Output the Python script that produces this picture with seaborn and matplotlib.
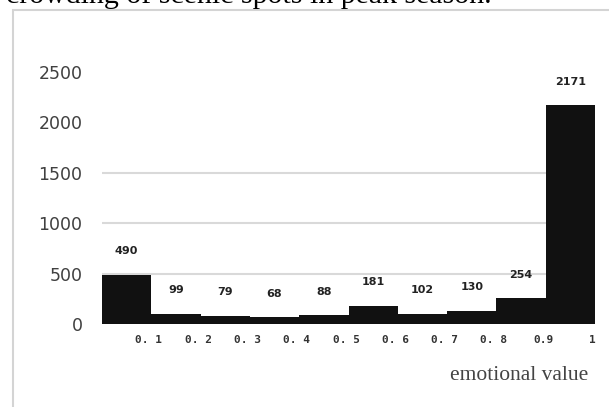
import matplotlib
matplotlib.use("Agg")
import matplotlib.pyplot as plt
import seaborn as sns
import pandas as pd
from matplotlib.patches import Rectangle

bins = ["0-0.1", "0.1-0.2", "0.2-0.3", "0.3-0.4", "0.4-0.5",
        "0.5-0.6", "0.6-0.7", "0.7-0.8", "0.8-0.9", "0.9-1"]
counts = [490, 99, 79, 68, 88, 181, 102, 130, 254, 2171]
tick_labels = ["0. 1", "0. 2", "0. 3", "0. 4", "0. 5",
               "0. 6", "0. 7", "0. 8", "0.9", "1"]
y_ticks = [0, 500, 1000, 1500, 2000, 2500]
grid_levels = [500, 1000, 1500]

sns.set_style("white")
W, H = 609, 407
fig = plt.figure(figsize=(W / 100, H / 100), dpi=100)

# outer frame of the embedded chart
fig.patches.append(Rectangle((13 / W, -0.1), 1.2, 1 - 10 / H + 0.1,
                             transform=fig.transFigure, fill=False,
                             edgecolor="#d4d4d4", linewidth=1.5))

# caption text cut off at the top (as in the reference)
fig.text(6 / W, 1 - 3 / H, "crowding of scenic spots in peak season.",
         family="Liberation Serif", fontsize=21.5, color="black",
         va="baseline", ha="left")

ax = fig.add_axes([102 / W, 1 - 324 / H, 493 / W, (324 - 72) / H])
df = pd.DataFrame({"bin": bins, "count": counts})

for g in grid_levels:
    ax.axhline(g, color="#d9d9d9", linewidth=1.5, zorder=0)

sns.barplot(data=df, x="bin", y="count", color="#111111", width=1.0,
            saturation=1, ax=ax, zorder=2, linewidth=0)

ax.set_xlim(-0.5, len(bins) - 0.5)
ax.set_ylim(0, 2500)
for s in ax.spines.values():
    s.set_visible(False)

ax.set_yticks(y_ticks)
ax.set_yticklabels([str(v) for v in y_ticks], fontsize=12.5,
                   color="#404040", family="DejaVu Sans")
ax.tick_params(axis="y", length=0, pad=14)

ax.set_xticks([i + 0.45 for i in range(len(bins))])
ax.set_xticklabels(tick_labels, fontsize=8, family="DejaVu Sans Mono",
                   weight="bold", color="#333333")
ax.tick_params(axis="x", length=0, pad=8)
ax.set_xlabel("")
ax.set_ylabel("")

for i, v in enumerate(counts):
    ax.annotate(str(v), (i, v), xytext=(0, 17), textcoords="offset points",
                ha="center", va="center", fontsize=8, weight="bold",
                color="#222222", family="DejaVu Sans")

fig.text(588 / W, 1 - 375 / H, "emotional value", family="Liberation Serif",
         fontsize=15.5, color="#444444", ha="right", va="center")

fig.savefig("out.png", dpi=100)
